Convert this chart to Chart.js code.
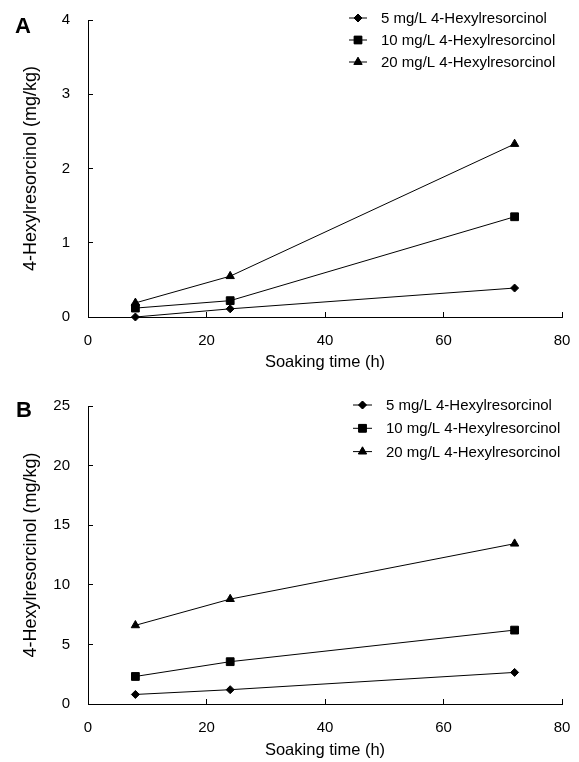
<!DOCTYPE html>
<html lang="en">
<head>
    <meta charset="UTF-8">
    <title>4-Hexylresorcinol uptake</title>
    <script src="https://cdn.jsdelivr.net/npm/chart.js"></script>
    <style>
        body {
            margin: 0;
            background: #fff;
            font-family: 'Liberation Sans', Arial, sans-serif;
        }
        .panel {
            position: absolute;
            left: 0;
            width: 579px;
            height: 381px;
        }
        .panel-label {
            position: absolute;
            font-weight: bold;
            font-size: 22px;
            line-height: 1;
            color: #000;
        }
    </style>
</head>
<body>
    <div class="panel" style="top: 0;"><canvas id="chartA" width="579" height="381"></canvas></div>
    <div class="panel" style="top: 381px;"><canvas id="chartB" width="579" height="381"></canvas></div>
    <span class="panel-label" style="left: 15px; top: 15px;">A</span>
    <span class="panel-label" style="left: 16px; top: 399px;">B</span>

    <script>
        // data
        const soakingHours = [8, 24, 72];
        const seriesLabels = ['5 mg/L 4-Hexylresorcinol', '10 mg/L 4-Hexylresorcinol', '20 mg/L 4-Hexylresorcinol'];
        const markerStyles = ['rectRot', 'rect', 'triangle'];
        const markerRadius = [4, 5.5, 4.8];

        const panelA_5mg = [0.0, 0.11, 0.39];
        const panelA_10mg = [0.12, 0.22, 1.35];
        const panelA_20mg = [0.19, 0.55, 2.33];

        const panelB_5mg = [0.8, 1.2, 2.65];
        const panelB_10mg = [2.31, 3.55, 6.2];
        const panelB_20mg = [6.6, 8.8, 13.45];

        const xTicks = [0, 20, 40, 60, 80];
        const yTicksA = [0, 1, 2, 3, 4];
        const yTicksB = [0, 5, 10, 15, 20, 25];

        const FONT = "'Liberation Sans', Arial, sans-serif";

        // legend drawn inside the plot area, top right
        const insideLegend = {
            id: 'insideLegend',
            afterDraw(chart, args, opts) {
                const ctx = chart.ctx;
                ctx.save();
                ctx.font = '15px ' + FONT;
                ctx.fillStyle = '#000';
                ctx.strokeStyle = '#000';
                ctx.textBaseline = 'middle';
                chart.data.datasets.forEach((ds, i) => {
                    const y = opts.y0 + i * opts.step;
                    ctx.lineWidth = 1;
                    ctx.beginPath();
                    ctx.moveTo(opts.x1, y);
                    ctx.lineTo(opts.x2, y);
                    ctx.stroke();
                    Chart.helpers.drawPoint(ctx, {
                        pointStyle: ds.pointStyle,
                        radius: ds.pointRadius,
                        borderWidth: 1
                    }, (opts.x1 + opts.x2) / 2, y);
                    ctx.fill();
                    ctx.fillText(ds.label, opts.textX, y + 1);
                });
                ctx.restore();
            }
        };

        function makeDatasets(values) {
            return values.map((vals, i) => ({
                label: seriesLabels[i],
                data: soakingHours.map((h, j) => ({ x: h, y: vals[j] })),
                borderColor: '#000',
                backgroundColor: '#000',
                borderWidth: 1,
                pointStyle: markerStyles[i],
                pointRadius: markerRadius[i],
                pointBackgroundColor: '#000',
                pointBorderColor: '#000',
                pointBorderWidth: 1,
                clip: false,
                tension: 0
            }));
        }

        function makeChart(id, values, yTicks, yMax, yStep, areaTop, areaBottom, xTitlePad, legend) {
            const ctx = document.getElementById(id).getContext('2d');
            const axisHeight = 381 - areaBottom;
            return new Chart(ctx, {
                type: 'line',
                data: { datasets: makeDatasets(values) },
                plugins: [insideLegend],
                options: {
                    responsive: false,
                    animation: false,
                    events: [],
                    layout: { padding: { top: areaTop, right: 17, left: 0, bottom: 0 } },
                    plugins: {
                        legend: { display: false },
                        tooltip: { enabled: false },
                        insideLegend: legend
                    },
                    scales: {
                        x: {
                            type: 'linear',
                            min: xTicks[0],
                            max: xTicks[xTicks.length - 1],
                            afterBuildTicks: (scale) => { scale.ticks = xTicks.map(v => ({ value: v })); },
                            afterFit: (scale) => {
                                scale.height = axisHeight;
                                scale.paddingLeft = 0;
                                scale.paddingRight = 0;
                            },
                            border: { display: true, color: '#000', width: 1 },
                            grid: { drawOnChartArea: false, drawTicks: true, tickLength: -5, color: '#000', lineWidth: 1 },
                            ticks: { color: '#000', font: { family: FONT, size: 15 }, padding: 20, maxRotation: 0 },
                            title: {
                                display: true,
                                text: 'Soaking time (h)',
                                color: '#000',
                                font: { family: FONT, size: 16.5 },
                                padding: { top: 0, bottom: xTitlePad }
                            }
                        },
                        y: {
                            type: 'linear',
                            min: 0,
                            max: yMax,
                            afterBuildTicks: (scale) => { scale.ticks = yTicks.map(v => ({ value: v })); },
                            afterFit: (scale) => {
                                scale.width = 88;
                                scale.paddingTop = 0;
                                scale.paddingBottom = 0;
                            },
                            border: { display: true, color: '#000', width: 1 },
                            grid: { drawOnChartArea: false, drawTicks: true, tickLength: -5, color: '#000', lineWidth: 1 },
                            ticks: { color: '#000', font: { family: FONT, size: 15 }, padding: 23, stepSize: yStep },
                            title: {
                                display: true,
                                text: '4-Hexylresorcinol (mg/kg)',
                                color: '#000',
                                font: { family: FONT, size: 18 },
                                padding: { top: 20, bottom: 0 }
                            }
                        }
                    }
                }
            });
        }

        makeChart('chartA', [panelA_5mg, panelA_10mg, panelA_20mg], yTicksA, 4, 1, 20, 317, 9,
            { x1: 349, x2: 367, textX: 381, y0: 18, step: 22 });
        makeChart('chartB', [panelB_5mg, panelB_10mg, panelB_20mg], yTicksB, 25, 5, 25, 323, 2,
            { x1: 353, x2: 372, textX: 386, y0: 24, step: 23.3 });
    </script>
</body>
</html>
